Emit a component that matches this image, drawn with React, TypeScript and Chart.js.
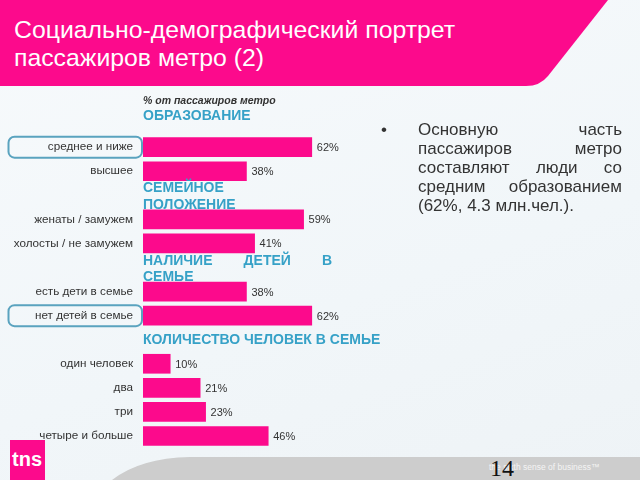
import React, { useEffect, useRef } from "react";
import { Chart, registerables } from "chart.js";

Chart.register(...registerables);

const subtitle = "% от пассажиров метро";
const groupTitles: string[][] = [
  ["ОБРАЗОВАНИЕ"],
  ["СЕМЕЙНОЕ", "ПОЛОЖЕНИЕ"],
  ["НАЛИЧИЕ ДЕТЕЙ В", "СЕМЬЕ"],
  ["КОЛИЧЕСТВО ЧЕЛОВЕК В СЕМЬЕ"],
];
const educationLabels = ["среднее и ниже", "высшее"];
const educationValues = [62, 38];
const maritalLabels = ["женаты / замужем", "холосты / не замужем"];
const maritalValues = [59, 41];
const childrenLabels = ["есть дети в семье", "нет детей в семье"];
const childrenValues = [38, 62];
const householdLabels = ["один человек", "два", "три", "четыре и больше"];
const householdValues = [10, 21, 23, 46];
const highlighted = ["среднее и ниже", "нет детей в семье"];

const groupLabels = [educationLabels, maritalLabels, childrenLabels, householdLabels];
const groupValues = [educationValues, maritalValues, childrenValues, householdValues];

const titleLines = ["Социально-демографический портрет", "пассажиров метро (2)"];
const bodyLines = [
  "Основную часть",
  "пассажиров метро",
  "составляют люди со",
  "средним образованием",
  "(62%, 4.3 млн.чел.).",
];

// style: how each group header sits in its slot
const headerAlign = ["top", "top", "top", "middle"];

const PINK = "#fc0a8c";
const TEAL = "#36a1c7";
const FONT = "'Liberation Sans', Arial, sans-serif";

type Slot = { kind: "sub" | "head" | "bar"; label: string; value: number | null; lines?: string[]; g?: number };

function buildSlots(): Slot[] {
  const slots: Slot[] = [{ kind: "sub", label: "", value: null, lines: [subtitle] }];
  groupTitles.forEach((t, g) => {
    slots.push({ kind: "head", label: "", value: null, lines: t, g });
    groupLabels[g].forEach((l, i) => slots.push({ kind: "bar", label: l, value: groupValues[g][i] }));
  });
  return slots;
}

export default function App() {
  const ref = useRef<HTMLCanvasElement | null>(null);

  useEffect(() => {
    if (!ref.current) return;
    const slots = buildSlots();
    const drawStretched = (ctx: CanvasRenderingContext2D, text: string, x: number, y: number) => {
      ctx.save();
      ctx.translate(x, y);
      ctx.scale(1, 1.05);
      ctx.fillText(text, 0, 0);
      ctx.restore();
    };
    const overlay = {
      id: "overlay",
      beforeDatasetsDraw(chart: any) {
        const ctx = chart.ctx;
        const ys = chart.scales.y;
        ctx.save();
        slots.forEach((s, i) => {
          if (s.kind === "bar" && highlighted.includes(s.label)) {
            const y = ys.getPixelForValue(i);
            ctx.beginPath();
            (ctx as any).roundRect(8.5, y - 10.5, chart.chartArea.left - 9.5, 21, 6);
            ctx.lineWidth = 2;
            ctx.strokeStyle = "#5aa3bf";
            ctx.stroke();
          }
        });
        ctx.restore();
      },
      afterDatasetsDraw(chart: any) {
        const ctx = chart.ctx;
        const ys = chart.scales.y;
        const left = chart.chartArea.left;
        const meta = chart.getDatasetMeta(0);
        ctx.save();
        ctx.textBaseline = "middle";
        slots.forEach((s, i) => {
          const y = ys.getPixelForValue(i);
          if (s.kind === "bar") {
            const el = meta.data[i];
            ctx.font = `11px ${FONT}`;
            ctx.fillStyle = "#333";
            ctx.textAlign = "left";
            ctx.fillText(`${s.value}%`, el.x + 5, y + 1);
          } else if (s.kind === "sub") {
            ctx.font = `italic bold 10.5px ${FONT}`;
            ctx.fillStyle = "#333";
            ctx.textAlign = "left";
            ctx.fillText(s.lines![0], left, y + 2.5);
          } else {
            const lines = s.lines!;
            ctx.font = `bold 14px ${FONT}`;
            ctx.fillStyle = TEAL;
            ctx.textAlign = "left";
            const n = lines.length;
            const top = headerAlign[s.g!] === "top";
            lines.forEach((line, li) => {
              const ly = top ? y - 7 + li * 16.5 : y + (li - (n - 1) / 2) * 16.5;
              const words = line.split(" ");
              if (n > 1 && li < n - 1 && words.length > 1) {
                const width = 189;
                const total = words.reduce((a, w) => a + ctx.measureText(w).width, 0);
                const gap = (width - total) / (words.length - 1);
                let x = left;
                words.forEach((w) => {
                  drawStretched(ctx, w, x, ly);
                  x += ctx.measureText(w).width + gap;
                });
              } else {
                drawStretched(ctx, line, left, ly);
              }
            });
          }
        });
        ctx.restore();
      },
    };

    const chart = new Chart(ref.current, {
      type: "bar",
      data: {
        labels: slots.map((s) => s.label),
        datasets: [
          {
            data: slots.map((s) => s.value),
            backgroundColor: PINK,
            barThickness: 19,
            borderWidth: 0,
          },
        ],
      },
      options: {
        indexAxis: "y",
        animation: false,
        responsive: false,
        maintainAspectRatio: false,
        layout: { padding: { top: 0, bottom: 0, left: 0, right: 2 } },
        plugins: { legend: { display: false }, tooltip: { enabled: false } },
        scales: {
          x: { display: false, min: 0, max: 90, grid: { display: false } },
          y: {
            grid: { display: false, drawTicks: false },
            border: { display: false },
            ticks: {
              padding: 10,
              color: "#333",
              font: { family: FONT, size: 11.7 },
              autoSkip: false,
            },
            afterFit(scale: any) {
              scale.width = 143;
              scale.paddingTop = 0;
              scale.paddingBottom = 0;
            },
          },
        },
      },
      plugins: [overlay],
    } as any);
    return () => chart.destroy();
  }, []);

  return (
    <div
      style={{
        position: "fixed",
        left: 0,
        top: 0,
        width: 640,
        height: 480,
        overflow: "hidden",
        background: "linear-gradient(160deg, #f7fafc 0%, #f1f6f9 60%, #eef3f6 100%)",
        fontFamily: FONT,
      }}
    >
      <svg width={640} height={480} style={{ position: "absolute", left: 0, top: 0 }}>
        <path d="M0,0 H608 L548,76 Q540,86 526,86 H0 Z" fill={PINK} />
        <path d="M112,480 Q140,458 190,457 H640 V480 Z" fill="#cdcdcd" />
        <rect x={10} y={440} width={35} height={40} fill={PINK} />
      </svg>
      <div
        style={{
          position: "absolute",
          left: 14,
          top: 16,
          color: "#fff",
          fontSize: 24.8,
          lineHeight: "28px",
          whiteSpace: "nowrap",
        }}
      >
        {titleLines.map((l, i) => (
          <div key={i}>{l}</div>
        ))}
      </div>
      <canvas
        ref={ref}
        width={390}
        height={361}
        style={{ position: "absolute", left: 0, top: 87, width: 390, height: 361 }}
      />
      <div style={{ position: "absolute", left: 381, top: 120, fontSize: 17, lineHeight: "19px", color: "#333" }}>•</div>
      <div
        style={{
          position: "absolute",
          left: 418,
          top: 120,
          width: 204,
          fontSize: 17,
          lineHeight: "19px",
          color: "#333",
        }}
      >
        {bodyLines.map((l, i) => (
          <div
            key={i}
            style={{
              textAlign: i < bodyLines.length - 1 ? "justify" : "left",
              textAlignLast: i < bodyLines.length - 1 ? "justify" : "left",
              whiteSpace: "nowrap",
            } as any}
          >
            {l}
          </div>
        ))}
      </div>
      <div
        style={{
          position: "absolute",
          left: 12,
          top: 449,
          color: "#fff",
          fontWeight: "bold",
          fontSize: 20,
          lineHeight: "20px",
        }}
      >
        tns
      </div>
      <div
        style={{
          position: "absolute",
          left: 489,
          top: 462,
          color: "#f4f4f4",
          fontSize: 8.5,
          lineHeight: "10px",
          whiteSpace: "nowrap",
        }}
      >
        the sixth sense of business™
      </div>
      <div
        style={{
          position: "absolute",
          left: 490,
          top: 456,
          color: "#111",
          fontFamily: "'Liberation Serif', 'Times New Roman', serif",
          fontSize: 24,
          lineHeight: "24px",
        }}
      >
        14
      </div>
    </div>
  );
}
